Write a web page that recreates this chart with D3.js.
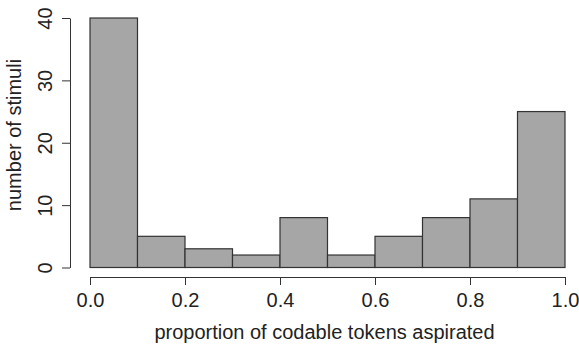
<!DOCTYPE html>
<html>
<head>
<meta charset="utf-8">
<script src="https://cdn.jsdelivr.net/npm/d3@7.9.0/dist/d3.min.js"></script>
<style>
  body { margin: 0; background: #fff; }
  text { font-family: "Liberation Sans", Arial, sans-serif; fill: #222; }
</style>
</head>
<body>
<div id="chart"></div>
<script>
// histogram bins (lower edges) and counts
const binStarts = [0.0, 0.1, 0.2, 0.3, 0.4, 0.5, 0.6, 0.7, 0.8, 0.9];
const binWidth = 0.1;
const counts = [40, 5, 3, 2, 8, 2, 5, 8, 11, 25];
const xTicks = [0.0, 0.2, 0.4, 0.6, 0.8, 1.0];
const yTicks = [0, 10, 20, 30, 40];

const width = 579, height = 345;
const fontSize = 20;
const svg = d3.select('#chart').append('svg')
  .attr('width', width).attr('height', height);

const xScale = d3.scaleLinear().domain([0, 1]).range([90, 565]);
const yScale = d3.scaleLinear().domain([0, 40]).range([267.5, 18]);

const bins = binStarts.map((b, i) => ({ x0: b, x1: b + binWidth, n: counts[i] }));

svg.append('g')
  .selectAll('rect')
  .data(bins)
  .join('rect')
  .attr('x', d => xScale(d.x0))
  .attr('y', d => yScale(d.n))
  .attr('width', d => xScale(d.x1) - xScale(d.x0))
  .attr('height', d => yScale(0) - yScale(d.n))
  .attr('fill', '#a6a6a6')
  .attr('stroke', '#333')
  .attr('stroke-width', 1.2);

// x axis
const xAxis = svg.append('g')
  .attr('transform', 'translate(0,277)')
  .call(d3.axisBottom(xScale).tickValues(xTicks).tickFormat(d3.format('.1f')).tickSize(8).tickSizeOuter(0));
xAxis.selectAll('text').attr('font-size', fontSize).attr('dy', null).attr('y', 30)
  .style('font-family', '"Liberation Sans", Arial, sans-serif');
xAxis.selectAll('line, path').attr('stroke', '#333');

// y axis with rotated labels
const yAxis = svg.append('g')
  .attr('transform', 'translate(70,0)')
  .call(d3.axisLeft(yScale).tickValues(yTicks).tickSize(8).tickSizeOuter(0));
yAxis.selectAll('line, path').attr('stroke', '#333');
yAxis.selectAll('text')
  .attr('font-size', fontSize)
  .attr('x', null).attr('dy', null)
  .attr('text-anchor', 'middle')
  .attr('transform', 'translate(-18,0) rotate(-90)')
  .style('font-family', '"Liberation Sans", Arial, sans-serif');

svg.append('text')
  .attr('x', xScale(0.5) - 3).attr('y', 339)
  .attr('text-anchor', 'middle').attr('font-size', fontSize)
  .text('proportion of codable tokens aspirated');

svg.append('text')
  .attr('transform', 'translate(21,135) rotate(-90)')
  .attr('text-anchor', 'middle').attr('font-size', fontSize)
  .text('number of stimuli');
</script>
</body>
</html>
